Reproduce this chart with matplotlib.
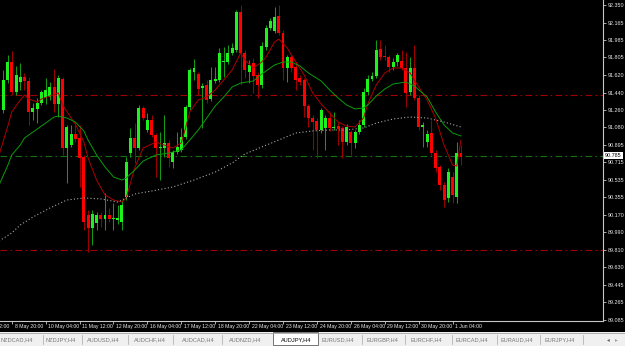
import matplotlib
matplotlib.use("Agg")
import numpy as np
from matplotlib import pyplot as plt
from matplotlib.patches import Rectangle

# AUDJPY H4 candles (oldest first)
opens = [91.259, 91.570, 91.757, 91.446, 91.550, 91.601, 91.560, 91.239, 91.270, 91.332,
         91.384, 91.394, 91.498, 91.322, 91.581, 90.865, 90.896, 91.010, 90.969, 90.772,
         90.170, 90.036, 90.087, 90.170, 90.129, 90.170, 90.129, 90.119, 90.098, 90.357,
         90.813, 90.969, 90.865, 91.280, 91.052, 91.156, 91.000, 90.865, 90.865, 90.917,
         90.720, 90.824, 90.845, 90.979, 91.290, 91.653, 91.633, 91.487, 91.519, 91.373,
         91.560, 91.570, 91.757, 91.757, 91.850, 91.882, 92.276, 91.850, 91.653, 91.747,
         91.622, 91.519, 91.913, 92.110, 92.079, 92.234, 92.058, 91.695, 91.809, 91.705,
         91.591, 91.570, 91.301, 91.176, 91.145, 91.052, 91.073, 91.176, 91.073, 91.093,
         91.073, 90.927, 91.031, 90.917, 91.031, 91.104, 91.446, 91.581, 91.612, 91.892,
         91.819, 91.809, 91.705, 91.757, 91.767, 91.695, 91.446, 91.695, 91.384, 91.083,
         90.927, 91.021, 90.813, 90.668, 90.482, 90.347, 90.565, 90.357, 90.813]
closes = [91.570, 91.757, 91.446, 91.622, 91.601, 91.560, 91.239, 91.280, 91.332, 91.446,
          91.467, 91.498, 91.322, 91.591, 90.865, 91.083, 91.010, 90.959, 90.762, 90.098,
          90.036, 90.181, 90.170, 90.129, 90.170, 90.129, 90.139, 90.139, 90.274, 90.720,
          90.969, 90.865, 91.280, 91.176, 91.156, 91.000, 90.865, 90.876, 90.917, 90.762,
          90.824, 90.876, 90.979, 91.290, 91.674, 91.695, 91.477, 91.508, 91.363, 91.570,
          91.581, 91.850, 91.767, 91.850, 91.902, 92.276, 91.850, 91.674, 91.726, 91.612,
          91.519, 91.923, 92.110, 92.182, 92.224, 92.058, 91.695, 91.809, 91.695, 91.570,
          91.550, 91.301, 91.176, 91.135, 91.052, 91.259, 91.176, 91.073, 91.083, 91.062,
          90.927, 91.083, 90.917, 91.031, 91.104, 91.446, 91.581, 91.612, 91.882, 91.809,
          91.809, 91.705, 91.757, 91.830, 91.695, 91.436, 91.695, 91.384, 91.083, 91.104,
          91.010, 90.813, 90.658, 90.482, 90.326, 90.616, 90.378, 90.813, 90.772]
highs = [91.674, 91.830, 91.871, 91.716, 91.747, 91.643, 91.601, 91.332, 91.384, 91.467,
         91.591, 91.550, 91.684, 91.622, 91.601, 91.104, 91.104, 91.104, 91.104, 90.793,
         90.222, 90.222, 90.202, 90.202, 90.399, 90.243, 90.295, 90.274, 90.326, 90.772,
         91.073, 91.124, 91.311, 91.301, 91.228, 91.207, 91.021, 91.031, 91.207, 90.948,
         90.845, 91.031, 91.073, 91.311, 91.695, 91.788, 91.653, 91.539, 91.570, 91.705,
         91.705, 91.902, 91.913, 91.933, 91.954, 92.296, 92.348, 91.882, 91.778, 91.799,
         91.653, 91.964, 92.141, 92.213, 92.327, 92.348, 92.089, 91.830, 91.830, 91.757,
         91.622, 91.591, 91.322, 91.207, 91.176, 91.280, 91.207, 91.239, 91.239, 91.135,
         91.093, 91.114, 91.052, 91.052, 91.156, 91.487, 91.622, 91.653, 91.985, 91.985,
         91.933, 91.830, 91.799, 91.850, 91.882, 91.861, 91.809, 91.933, 91.415, 91.135,
         91.052, 91.156, 90.845, 90.689, 90.513, 90.658, 90.616, 90.927, 90.896]
lows = [91.228, 91.539, 91.415, 91.415, 91.467, 91.467, 91.104, 91.156, 91.124, 91.311,
        91.322, 91.363, 91.239, 91.187, 90.793, 90.502, 90.876, 90.927, 90.461, 90.015,
        89.787, 89.859, 90.015, 90.046, 90.015, 90.098, 90.015, 90.077, 90.015, 90.326,
        90.772, 90.710, 90.845, 91.156, 91.031, 90.979, 90.565, 90.533, 90.772, 90.668,
        90.658, 90.803, 90.824, 90.959, 91.259, 91.570, 91.415, 91.073, 91.332, 91.353,
        91.539, 91.550, 91.601, 91.736, 91.830, 91.861, 91.519, 91.591, 91.539, 91.436,
        91.384, 91.487, 91.882, 92.089, 92.058, 92.037, 91.570, 91.550, 91.653, 91.467,
        91.519, 91.187, 91.083, 90.845, 90.762, 91.021, 90.845, 91.042, 91.052, 90.896,
        90.762, 90.896, 90.793, 90.865, 91.010, 91.083, 91.415, 91.560, 91.591, 91.778,
        91.778, 91.653, 91.674, 91.716, 91.674, 91.290, 91.415, 91.363, 91.052, 90.876,
        90.876, 90.793, 90.616, 90.430, 90.253, 90.305, 90.295, 90.295, 90.689]

# moving averages: (bar index, price)
fast_ma_bar = [-1, 1, 2, 4, 5, 6, 8, 9, 11, 13, 14, 16, 17, 19, 20, 22, 24, 26, 28, 29,
               31, 33, 36, 40, 42, 43, 44, 46, 48, 50, 52, 54, 56, 57, 59, 61, 62, 64, 65,
               67, 68, 71, 73, 75, 77, 79, 81, 83, 85, 86, 88, 90, 92, 94, 96, 97, 100,
               102, 104, 106, 107, 108]
fast_ma = [90.793, 91.083, 91.239, 91.363, 91.415, 91.373, 91.342, 91.373, 91.404, 91.436,
           91.311, 91.176, 91.114, 90.927, 90.762, 90.533, 90.378, 90.326, 90.305, 90.347,
           90.658, 90.865, 90.927, 90.865, 90.917, 91.073, 91.239, 91.363, 91.394, 91.467,
           91.570, 91.674, 91.850, 91.778, 91.695, 91.757, 91.809, 91.964, 91.995, 91.902,
           91.830, 91.622, 91.436, 91.322, 91.228, 91.135, 91.093, 91.083, 91.176, 91.322,
           91.519, 91.643, 91.695, 91.695, 91.643, 91.570, 91.363, 91.176, 90.896, 90.689,
           90.679, 90.948]
mid_ma_bar = [-1, 1, 2, 4, 5, 7, 9, 12, 13, 15, 17, 19, 20, 22, 24, 26, 28, 29, 31, 33,
              36, 39, 42, 44, 46, 48, 50, 52, 54, 56, 59, 61, 64, 66, 68, 70, 72, 75, 77,
              79, 81, 83, 85, 86, 88, 90, 92, 95, 97, 100, 102, 104, 106, 108]
mid_ma = [90.482, 90.679, 90.793, 90.896, 90.969, 91.031, 91.093, 91.187, 91.197, 91.176,
          91.135, 91.042, 90.948, 90.793, 90.668, 90.565, 90.533, 90.554, 90.637, 90.730,
          90.793, 90.813, 90.845, 90.948, 91.052, 91.176, 91.301, 91.394, 91.498, 91.539,
          91.560, 91.633, 91.726, 91.757, 91.757, 91.716, 91.643, 91.560, 91.467, 91.384,
          91.311, 91.270, 91.280, 91.311, 91.404, 91.477, 91.529, 91.550, 91.508, 91.394,
          91.239, 91.104, 91.021, 90.990]
slow_ma_bar = [-1, 2, 4, 7, 11, 15, 19, 23, 27, 29, 31, 35, 40, 45, 50, 54, 57, 61, 65,
               69, 73, 77, 81, 85, 88, 92, 96, 100, 104, 108]
slow_ma = [89.901, 89.984, 90.067, 90.150, 90.243, 90.326, 90.347, 90.337, 90.305, 90.347,
           90.388, 90.419, 90.461, 90.533, 90.616, 90.710, 90.803, 90.876, 90.948, 91.021,
           91.042, 91.052, 91.052, 91.073, 91.124, 91.166, 91.187, 91.176, 91.135, 91.083]

level_lines = [91.41, 89.81]
bid = 90.785
price_ticks = [92.350, 92.165, 91.985, 91.805, 91.620, 91.440, 91.260, 91.080, 90.895,
               90.715, 90.535, 90.355, 90.170, 89.990, 89.810, 89.630, 89.445, 89.265, 89.085]
date_labels = ["5 May 12:00", "8 May 20:00", "10 May 04:00", "11 May 12:00", "12 May 20:00",
               "16 May 04:00", "17 May 12:00", "18 May 20:00", "22 May 04:00", "23 May 12:00",
               "24 May 20:00", "26 May 04:00", "29 May 12:00", "30 May 20:00", "1 Jun 04:00"]
tabs = ["NZDCAD,H4", "NZDJPY,H4", "AUDUSD,H4", "AUDCHF,H4", "AUDCAD,H4", "AUDNZD,H4",
        "AUDJPY,H4", "EURUSD,H4", "EURGBP,H4", "EURCHF,H4", "EURCAD,H4", "EURAUD,H4", "EURJPY,H4"]
active_tab = "AUDJPY,H4"

plt.rcParams['font.family'] = ['Liberation Sans', 'DejaVu Sans']

W, H = 625, 346
fig = plt.figure(figsize=(W / 100, H / 100), dpi=100, facecolor="black")
ax = fig.add_axes([0, (H - 321) / H, 603 / W, 321 / H])
ax.set_facecolor("black")

o = np.array(opens)
c = np.array(closes)
hi = np.array(highs)
lo = np.array(lows)
idx = np.arange(len(o))
up = c >= o

# wicks then bodies
ax.vlines(idx[up], lo[up], hi[up], color="#139a13", lw=0.75, zorder=3)
ax.vlines(idx[~up], lo[~up], hi[~up], color="#9a0000", lw=0.75, zorder=3)
body = np.maximum(np.abs(c - o), 0.012)
bottom = np.minimum(o, c)
ax.bar(idx[up], body[up], bottom=bottom[up], width=0.7, color="#1df21d", lw=0, zorder=4)
ax.bar(idx[~up], body[~up], bottom=bottom[~up], width=0.7, color="#ff0000", lw=0, zorder=4)

ax.plot(fast_ma_bar, fast_ma, color="#b00000", lw=0.7, zorder=5)
ax.plot(mid_ma_bar, mid_ma, color="#0c9c0c", lw=0.7, zorder=5)
ax.plot(slow_ma_bar, slow_ma, color="#a8a8a8", lw=0.8, ls=(0, (1, 2)), zorder=5)

for lv in level_lines:
    ax.axhline(lv, color="#a00000", lw=0.8, ls=(0, (6, 3, 1.5, 3)), zorder=2)
ax.axhline(bid, color="#137013", lw=0.8, ls=(0, (6, 3, 1.5, 3)), zorder=2)

ax.set_ylim(92.40 - 0.01037 * 321, 92.40)
ax.set_xlim(-0.78, (603 - 3.3) / 4.238)

for s in ["left", "top"]:
    ax.spines[s].set_visible(False)
for s in ["right", "bottom"]:
    ax.spines[s].set_color("#c8c8c8")
    ax.spines[s].set_linewidth(0.8)

ax.yaxis.tick_right()
ax.set_yticks(price_ticks)
ax.set_yticklabels(["%.3f" % v for v in price_ticks])
ax.tick_params(axis="y", length=2, width=0.6, color="#c8c8c8", labelcolor="#e8e8e8",
               labelsize=3.9, pad=1.2)

# date ticks every 8 bars, first label sits left of the visible range
date_bars = [2 + 8 * (k - 1) for k in range(len(date_labels))]
ax.set_xticks([b for b in date_bars if b >= 0])
ax.set_xticklabels([])
ax.tick_params(axis="x", length=2, width=0.6, color="#c8c8c8")
for b, lab in zip(date_bars, date_labels):
    ax.annotate(lab, xy=(b, 0), xycoords=("data", "axes fraction"), xytext=(2.0, -4),
                textcoords="offset points", ha="left", va="center", fontsize=3.7,
                color="#e8e8e8", annotation_clip=False)

# current price box
ax.annotate("%.3f" % bid, xy=(1, bid), xycoords=("axes fraction", "data"),
            xytext=(1.4, 0), textcoords="offset points", ha="left", va="center",
            fontsize=3.9, color="black",
            bbox=dict(boxstyle="square,pad=0.2", fc="white", ec="white", lw=0))

# tab bar
ov = fig.add_axes([0, 0, 1, 1], zorder=-1)
ov.set_xlim(0, W)
ov.set_ylim(H, 0)
ov.axis("off")
ov.add_patch(Rectangle((0, 332), W, 14, fc="#f0f0f0", ec="none"))
ov.plot([0, W], [332.5, 332.5], color="#a0a0a0", lw=0.6)
tab_x = [17, 61, 103, 150, 198, 245, 296, 338, 382, 426, 472, 517, 560]
sep_x = [43, 82, 128, 173, 222, 362, 405, 452, 497, 540, 583]
for tx, name in zip(tab_x, tabs):
    if name == active_tab:
        ov.add_patch(Rectangle((273, 332), 45, 13, fc="white", ec="#606060", lw=0.6))
        ov.text(tx, 339.5, name, ha="center", va="center", fontsize=4.1, color="black")
    else:
        ov.text(tx, 339.5, name, ha="center", va="center", fontsize=4.1, color="#767676")
for sx in sep_x:
    ov.plot([sx, sx], [335, 344], color="#a8a8a8", lw=0.5)
ov.text(608, 339.5, "\u25c2", ha="center", va="center", fontsize=4, color="#606060")
ov.text(616, 339.5, "\u25b8", ha="center", va="center", fontsize=4, color="#a0a0a0")

fig.savefig("out.png", dpi=100, facecolor="black")
